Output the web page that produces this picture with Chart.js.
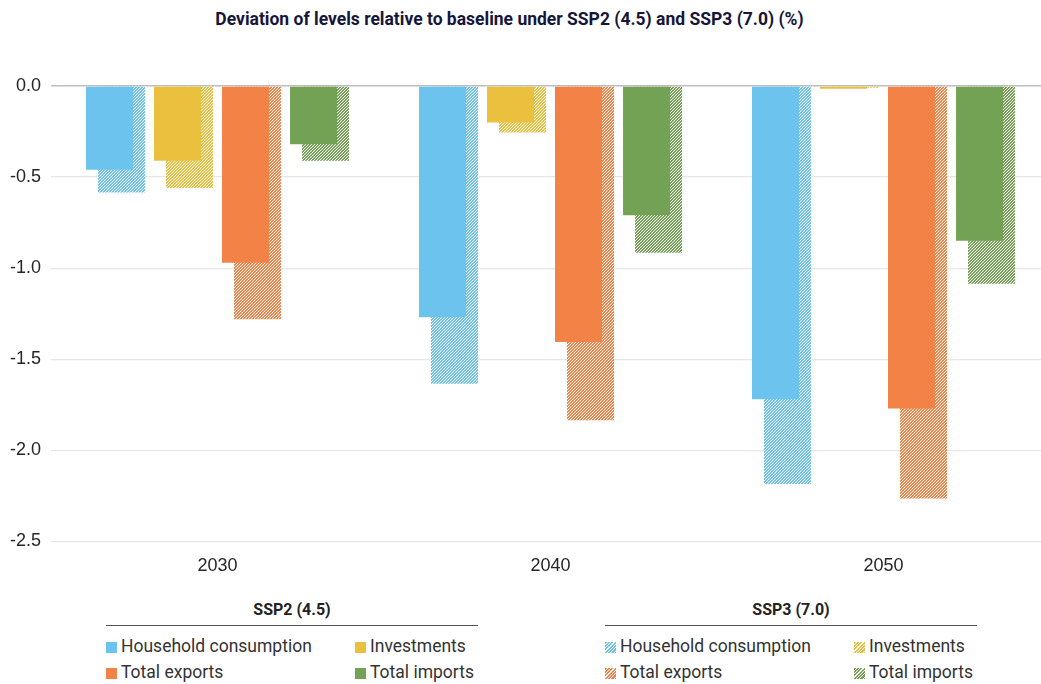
<!DOCTYPE html>
<html>
<head>
<meta charset="utf-8">
<script src="https://cdn.jsdelivr.net/npm/chart.js@4.4.1/dist/chart.umd.min.js"></script>
<style>
    body { margin: 0; width: 1041px; height: 684px; overflow: hidden; background: #fff; position: relative; font-family: Roboto, "Noto Sans", sans-serif; }
    #title { position: absolute; left: 0; top: 9px; width: 1019px; text-align: center; font-weight: 700; font-size: 17.5px; color: #16163a; }
    #chartWrap { position: absolute; left: 0; top: 0; }
    .legGroup { position: absolute; top: 598px; width: 372px; }
    .legHead { text-align: center; font-weight: 700; font-size: 16px; color: #222; height: 27px; line-height: 24px; border-bottom: 1px solid #555; }
    .legItem { position: absolute; font-size: 17.5px; color: #333; white-space: nowrap; line-height: 20px; }
    .legItem span.box { display: inline-block; width: 11px; height: 11px; margin-right: 4px; vertical-align: -1px; }
</style>
</head>
<body>
<div id="title">Deviation of levels relative to baseline under SSP2 (4.5) and SSP3 (7.0) (%)</div>
<div id="chartWrap"><canvas id="myChart" width="1060" height="589"></canvas></div>
<div id="legends"></div>

<script>
const years = ['2030', '2040', '2050'];
const seriesNames = ['Household consumption', 'Investments', 'Total exports', 'Total imports'];
const seriesColors = ['#6cc4ee', '#ecc03f', '#f38246', '#73a255'];

// SSP2 (4.5) - solid bars
const ssp2Household = [-0.46, -1.27, -1.72];
const ssp2Investments = [-0.41, -0.20, -0.015];
const ssp2Exports = [-0.97, -1.405, -1.77];
const ssp2Imports = [-0.32, -0.71, -0.85];

// SSP3 (7.0) - hatched bars
const ssp3Household = [-0.585, -1.635, -2.185];
const ssp3Investments = [-0.56, -0.255, -0.01];
const ssp3Exports = [-1.28, -1.835, -2.265];
const ssp3Imports = [-0.41, -0.915, -1.085];

const yTicks = [0, -0.5, -1.0, -1.5, -2.0, -2.5];

const ssp2 = [ssp2Household, ssp2Investments, ssp2Exports, ssp2Imports];
const ssp3 = [ssp3Household, ssp3Investments, ssp3Exports, ssp3Imports];

// fine "/" stripes, 3px period
function makeHatch(color) {
    const c = document.createElement('canvas');
    c.width = 3;
    c.height = 3;
    const g = c.getContext('2d');
    g.fillStyle = '#fff';
    g.fillRect(0, 0, 3, 3);
    g.fillStyle = color;
    for (let y = 0; y < 3; y++) {
        for (let x = 0; x < 3; x++) {
            if ((x + y) % 3 !== 2) g.fillRect(x, y, 1, 1);
        }
    }
    return g.createPattern(c, 'repeat');
}

// same stack id for a series in both scenarios -> they share one slot in the group
const datasets = [];
seriesNames.forEach((name, i) => {
    datasets.push({
        label: name + ' SSP2',
        data: ssp2[i],
        backgroundColor: seriesColors[i],
        stack: 's' + i,
        nudge: -6
    });
});
seriesNames.forEach((name, i) => {
    datasets.push({
        label: name + ' SSP3',
        data: ssp3[i],
        backgroundColor: makeHatch(seriesColors[i]),
        stack: 's' + i,
        nudge: 6
    });
});

// draw solid a bit left and hatched a bit right so the hatched bar peeks out behind
const nudgePlugin = {
    id: 'nudgeBars',
    beforeDatasetDraw(chart, args) {
        const ds = chart.data.datasets[args.index];
        chart.ctx.save();
        chart.ctx.translate(ds.nudge || 0, 0);
    },
    afterDatasetDraw(chart) {
        chart.ctx.restore();
    }
};

const ctx = document.getElementById('myChart').getContext('2d');
new Chart(ctx, {
    type: 'bar',
    data: { labels: years, datasets: datasets },
    plugins: [nudgePlugin],
    options: {
        responsive: false,
        animation: false,
        layout: { padding: { top: 86, left: 0, right: 10, bottom: 6 } },
        plugins: { legend: { display: false }, tooltip: { enabled: false } },
        datasets: { bar: { categoryPercentage: 0.817, barPercentage: 0.691 } },
        scales: {
            x: {
                grid: { display: false },
                border: { display: false },
                ticks: { color: '#262626', padding: 6, font: { family: '"Liberation Sans", Arial', size: 18 } }
            },
            y: {
                min: -2.5,
                max: 0,
                stacked: false,
                afterBuildTicks: (axis) => { axis.ticks = yTicks.map(v => ({ value: v })); },
                border: { display: false },
                grid: {
                    drawTicks: false,
                    color: (c) => (c.tick && c.tick.value === 0 ? '#bdbdc2' : '#e6e6e6'),
                    lineWidth: (c) => (c.tick && c.tick.value === 0 ? 1.5 : 1.2)
                },
                ticks: {
                    color: '#262626',
                    padding: 10,
                    font: { family: '"Liberation Sans", Arial', size: 18 },
                    callback: (v) => Number(v).toFixed(1)
                }
            }
        }
    }
});

// html legend, two groups
function buildLegend(left, head, hatched) {
    const grp = document.createElement('div');
    grp.className = 'legGroup';
    grp.style.left = left + 'px';
    grp.innerHTML = '<div class="legHead">' + head + '</div>';
    const cols = [0, 249];
    const rows = [38, 64];
    seriesNames.forEach((name, i) => {
        const item = document.createElement('div');
        item.className = 'legItem';
        item.style.left = cols[i % 2] + 'px';
        item.style.top = rows[Math.floor(i / 2)] + 'px';
        const c = seriesColors[i];
        const bg = hatched
            ? 'repeating-linear-gradient(135deg, ' + c + ' 0 1.5px, #fff 1.5px 2.4px)'
            : c;
        item.innerHTML = '<span class="box" style="background:' + bg + '"></span>' + name;
        grp.appendChild(item);
    });
    document.getElementById('legends').appendChild(grp);
}
buildLegend(106, 'SSP2 (4.5)', false);
buildLegend(605, 'SSP3 (7.0)', true);
</script>
</body>
</html>
